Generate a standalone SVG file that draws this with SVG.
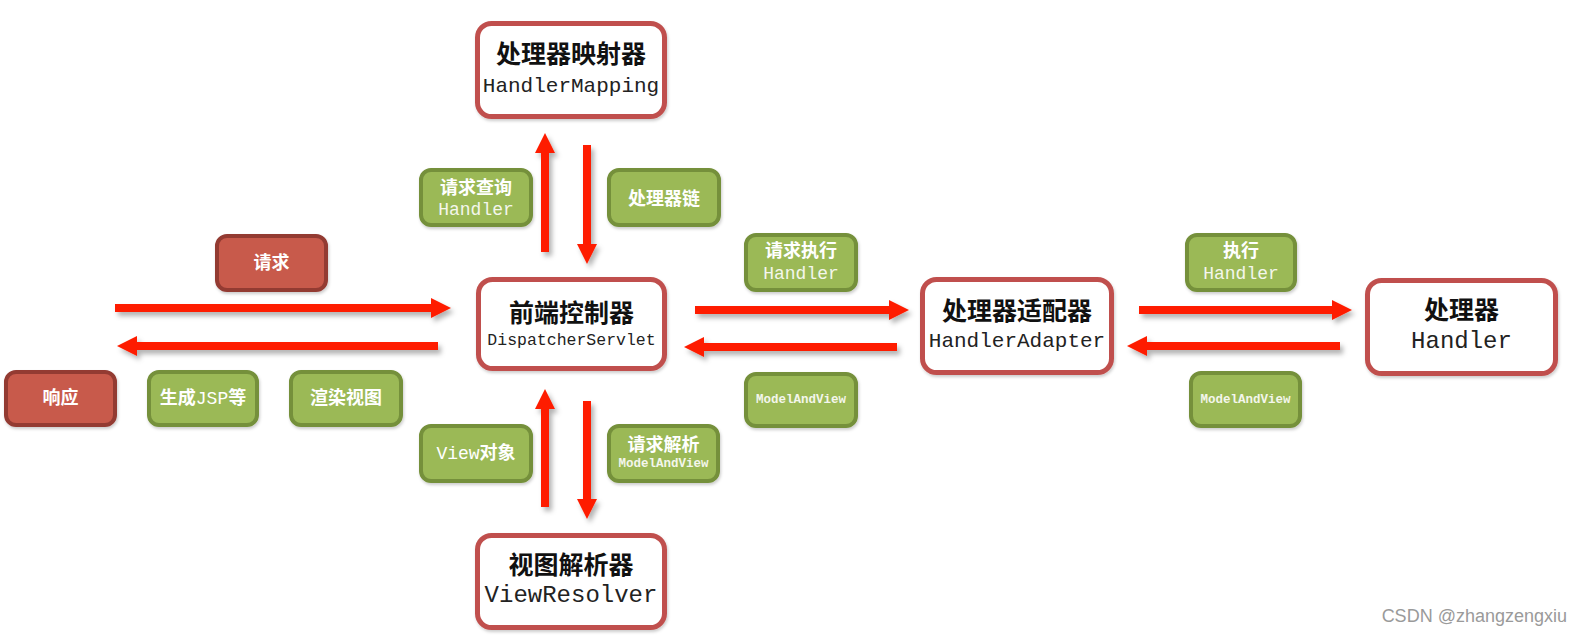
<svg xmlns="http://www.w3.org/2000/svg" width="1582" height="643" viewBox="0 0 1582 643">
  <defs>
    <marker id="ah" markerUnits="userSpaceOnUse" markerWidth="20" markerHeight="20" viewBox="0 0 20 20" refX="1" refY="10" orient="auto">
      <path d="M0,0 L20,10 L0,20 z" fill="#fe1d02"/>
    </marker>
    <filter id="sh" x="-20%" y="-50%" width="140%" height="200%">
      <feDropShadow dx="3" dy="4" stdDeviation="2.5" flood-color="#000" flood-opacity="0.3"/>
    </filter>
    <filter id="nsh" x="-10%" y="-10%" width="120%" height="130%">
      <feDropShadow dx="1" dy="2" stdDeviation="1.5" flood-color="#000" flood-opacity="0.2"/>
    </filter>
  </defs>
  <style>
    .main { fill: #ffffff; stroke: #c0504d; stroke-width: 5; filter: url(#nsh); }
    .green { fill: #9bb957; stroke: #74903a; stroke-width: 4; filter: url(#nsh); }
    .red { fill: #c85a4b; stroke: #933a32; stroke-width: 4; filter: url(#nsh); }
    .title { font-family: "Noto Sans CJK SC", "Liberation Sans", sans-serif; font-weight: bold; font-size: 25px; fill: #111; text-anchor: middle; }
    .mono { font-family: "Liberation Mono", "DejaVu Sans Mono", monospace; fill: #222; text-anchor: middle; }
    .lbl { font-family: "Noto Sans CJK SC", "Liberation Sans", sans-serif; font-weight: bold; font-size: 18px; fill: #ffffff; text-anchor: middle; }
    .lmono { font-family: "Liberation Mono", "DejaVu Sans Mono", monospace; fill: #f4f6ec; text-anchor: middle; }
    .arrow { fill: none; stroke: #fe1d02; stroke-width: 8; marker-end: url(#ah); }
    .wm { font-family: "Liberation Sans", "DejaVu Sans", sans-serif; font-size: 18px; fill: #9a9a9a; text-anchor: end; }
  </style>
  <rect width="1582" height="643" fill="#ffffff"/>

  <g id="connectors" filter="url(#sh)">
    <path class="arrow" d="M115,308 H432"/>
    <path class="arrow" d="M438,346 H136"/>
    <path class="arrow" d="M695,310 H890"/>
    <path class="arrow" d="M897,347 H703"/>
    <path class="arrow" d="M1139,310 H1333"/>
    <path class="arrow" d="M1340,346 H1146"/>
    <path class="arrow" d="M545,252 V152"/>
    <path class="arrow" d="M587,145 V245"/>
    <path class="arrow" d="M545,507 V408"/>
    <path class="arrow" d="M587,401 V500"/>
  </g>

  <g id="handlerMapping">
    <rect class="main" x="477.5" y="23.5" width="187" height="93" rx="14"/>
    <text class="title" x="571" y="63">处理器映射器</text>
    <text class="mono" x="571" y="92" font-size="21">HandlerMapping</text>
  </g>
  <g id="dispatcherServlet">
    <rect class="main" x="478.5" y="279.5" width="186" height="89" rx="14"/>
    <text class="title" x="571.5" y="322">前端控制器</text>
    <text class="mono" x="571.5" y="345" font-size="16.5">DispatcherServlet</text>
  </g>
  <g id="viewResolver">
    <rect class="main" x="477.5" y="535.5" width="187" height="92" rx="14"/>
    <text class="title" x="571" y="574">视图解析器</text>
    <text class="mono" x="571" y="602" font-size="24">ViewResolver</text>
  </g>
  <g id="handlerAdapter">
    <rect class="main" x="922.5" y="279.5" width="189" height="93" rx="14"/>
    <text class="title" x="1017" y="320">处理器适配器</text>
    <text class="mono" x="1017" y="347" font-size="21">HandlerAdapter</text>
  </g>
  <g id="handler">
    <rect class="main" x="1367.5" y="280.5" width="188" height="93" rx="14"/>
    <text class="title" x="1461.5" y="319">处理器</text>
    <text class="mono" x="1461.5" y="348" font-size="24">Handler</text>
  </g>

  <g id="lblQueryHandler">
    <rect class="green" x="421" y="170" width="110" height="55" rx="10"/>
    <text class="lbl" x="476" y="194">请求查询</text>
    <text class="lmono" x="476" y="215" font-size="18">Handler</text>
  </g>
  <g id="lblChain">
    <rect class="green" x="609" y="170" width="110" height="55" rx="10"/>
    <text class="lbl" x="664" y="205">处理器链</text>
  </g>
  <g id="lblExecHandler">
    <rect class="green" x="746" y="235" width="110" height="55" rx="10"/>
    <text class="lbl" x="801" y="257">请求执行</text>
    <text class="lmono" x="801" y="279" font-size="18">Handler</text>
  </g>
  <g id="lblExec">
    <rect class="green" x="1187" y="235" width="108" height="55" rx="10"/>
    <text class="lbl" x="1241" y="257">执行</text>
    <text class="lmono" x="1241" y="279" font-size="18">Handler</text>
  </g>
  <g id="lblMavLeft">
    <rect class="green" x="746" y="374" width="110" height="52" rx="10"/>
    <text class="lmono" x="801" y="403" font-size="12.5" font-weight="bold">ModelAndView</text>
  </g>
  <g id="lblMavRight">
    <rect class="green" x="1191" y="373" width="109" height="53" rx="10"/>
    <text class="lmono" x="1245.5" y="403" font-size="12.5" font-weight="bold">ModelAndView</text>
  </g>
  <g id="lblViewObj">
    <rect class="green" x="421" y="426" width="110" height="55" rx="10"/>
    <text class="lbl" x="476" y="459"><tspan font-family="Liberation Mono, monospace" font-weight="normal" font-size="18">View</tspan>对象</text>
  </g>
  <g id="lblResolve">
    <rect class="green" x="609" y="426" width="109" height="55" rx="10"/>
    <text class="lbl" x="663.5" y="451">请求解析</text>
    <text class="lmono" x="663.5" y="467" font-size="12.5" font-weight="bold">ModelAndView</text>
  </g>
  <g id="lblJsp">
    <rect class="green" x="149" y="372" width="108" height="53" rx="10"/>
    <text class="lbl" x="203" y="404">生成<tspan font-family="Liberation Mono, monospace" font-weight="normal" font-size="18">JSP</tspan>等</text>
  </g>
  <g id="lblRender">
    <rect class="green" x="291" y="372" width="110" height="53" rx="10"/>
    <text class="lbl" x="346" y="404">渲染视图</text>
  </g>
  <g id="lblRequest">
    <rect class="red" x="217" y="236" width="109" height="54" rx="10"/>
    <text class="lbl" x="271.5" y="269">请求</text>
  </g>
  <g id="lblResponse">
    <rect class="red" x="6" y="372" width="109" height="53" rx="10"/>
    <text class="lbl" x="60.5" y="404">响应</text>
  </g>

  <text class="wm" x="1567" y="622">CSDN @zhangzengxiu</text>
</svg>
